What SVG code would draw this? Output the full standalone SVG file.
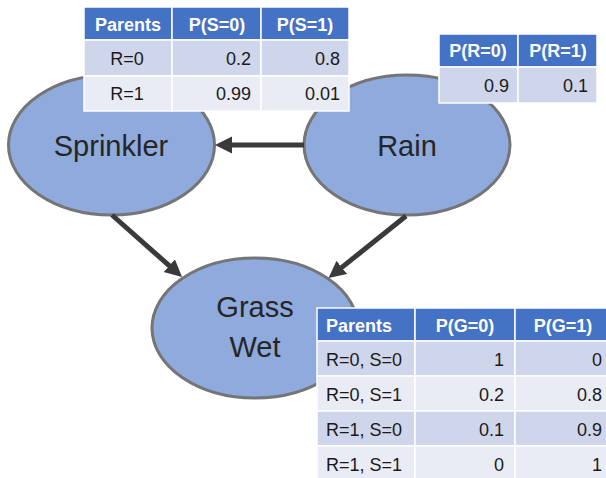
<svg xmlns="http://www.w3.org/2000/svg" width="606" height="478" viewBox="0 0 606 478">
<style>
.node{fill:#8FAADC;stroke:#757575;stroke-width:3}
.lbl{font-family:"Liberation Sans",Arial,sans-serif;font-size:29px;fill:#262626;text-anchor:middle}
.edge{stroke:#3A3A3A;stroke-width:5;fill:none;marker-end:url(#ah)}
.hd{fill:#4472C4;stroke:#fff;stroke-width:1.5}
.r1{fill:#CFD5EA;stroke:#fff;stroke-width:1.5}
.r2{fill:#E9EBF5;stroke:#fff;stroke-width:1.5}
.ht{font-family:"Liberation Sans",Arial,sans-serif;font-size:18px;font-weight:bold;fill:#fff;text-anchor:middle}
.dt{font-family:"Liberation Sans",Arial,sans-serif;font-size:18px;fill:#1a1a1a}
.c{text-anchor:middle}.r{text-anchor:end}.l{text-anchor:start}
</style>
<defs>
<marker id="ah" markerUnits="userSpaceOnUse" markerWidth="18" markerHeight="18" refX="4" refY="8.5" orient="auto">
<path d="M0,0 L17,8.5 L0,17 z" fill="#3A3A3A"/>
</marker>
</defs>
<rect width="606" height="478" fill="#fff"/>
<g id="sprinkler">
<ellipse class="node" cx="111.5" cy="145" rx="103" ry="70"/>
<text class="lbl" x="111" y="156">Sprinkler</text>
</g>
<g id="rain">
<ellipse class="node" cx="407" cy="145" rx="103" ry="70"/>
<text class="lbl" x="407" y="156">Rain</text>
</g>
<g id="grasswet">
<ellipse class="node" cx="255" cy="328" rx="103" ry="70"/>
<text class="lbl" x="255" y="317">Grass</text>
<text class="lbl" x="255" y="357">Wet</text>
</g>
<g id="connectors">
<line class="edge" x1="304" y1="145" x2="228" y2="145"/>
<line class="edge" x1="112" y1="215" x2="172.3" y2="268.4"/>
<line class="edge" x1="406" y1="216" x2="338.7" y2="269.9"/>
</g>
<g id="cpt-sprinkler">
<rect class="hd" x="84" y="7" width="88" height="33"/>
<rect class="hd" x="172" y="7" width="89" height="33"/>
<rect class="hd" x="261" y="7" width="88" height="33"/>
<rect class="r1" x="84" y="40" width="88" height="36"/>
<rect class="r1" x="172" y="40" width="89" height="36"/>
<rect class="r1" x="261" y="40" width="88" height="36"/>
<rect class="r2" x="84" y="76" width="88" height="35"/>
<rect class="r2" x="172" y="76" width="89" height="35"/>
<rect class="r2" x="261" y="76" width="88" height="35"/>
<text class="ht" x="128" y="31">Parents</text>
<text class="ht" x="217" y="31">P(S=0)</text>
<text class="ht" x="305" y="31">P(S=1)</text>
<text class="dt c" x="127" y="65">R=0</text>
<text class="dt r" x="251" y="65">0.2</text>
<text class="dt r" x="340" y="65">0.8</text>
<text class="dt c" x="127" y="100">R=1</text>
<text class="dt r" x="251" y="100">0.99</text>
<text class="dt r" x="340" y="100">0.01</text>
</g>
<g id="cpt-rain">
<rect class="hd" x="439" y="34" width="79" height="33"/>
<rect class="hd" x="518" y="34" width="79" height="33"/>
<rect class="r1" x="439" y="67" width="79" height="36"/>
<rect class="r1" x="518" y="67" width="79" height="36"/>
<text class="ht" x="478" y="57">P(R=0)</text>
<text class="ht" x="558" y="57">P(R=1)</text>
<text class="dt r" x="509" y="92">0.9</text>
<text class="dt r" x="588" y="92">0.1</text>
</g>
<g id="cpt-grasswet">
<rect class="hd" x="317" y="308" width="98" height="33"/>
<rect class="hd" x="415" y="308" width="100" height="33"/>
<rect class="hd" x="515" y="308" width="92" height="33"/>
<rect class="r1" x="317" y="341" width="98" height="35"/>
<rect class="r1" x="415" y="341" width="100" height="35"/>
<rect class="r1" x="515" y="341" width="92" height="35"/>
<rect class="r2" x="317" y="376" width="98" height="35"/>
<rect class="r2" x="415" y="376" width="100" height="35"/>
<rect class="r2" x="515" y="376" width="92" height="35"/>
<rect class="r1" x="317" y="411" width="98" height="35"/>
<rect class="r1" x="415" y="411" width="100" height="35"/>
<rect class="r1" x="515" y="411" width="92" height="35"/>
<rect class="r2" x="317" y="446" width="98" height="34"/>
<rect class="r2" x="415" y="446" width="100" height="34"/>
<rect class="r2" x="515" y="446" width="92" height="34"/>
<text class="ht l" x="326" y="332" style="text-anchor:start">Parents</text>
<text class="ht" x="465" y="332">P(G=0)</text>
<text class="ht" x="563" y="332">P(G=1)</text>
<text class="dt l" x="326" y="366">R=0, S=0</text>
<text class="dt r" x="504" y="366">1</text>
<text class="dt r" x="602" y="366">0</text>
<text class="dt l" x="326" y="401">R=0, S=1</text>
<text class="dt r" x="504" y="401">0.2</text>
<text class="dt r" x="602" y="401">0.8</text>
<text class="dt l" x="326" y="436">R=1, S=0</text>
<text class="dt r" x="504" y="436">0.1</text>
<text class="dt r" x="602" y="436">0.9</text>
<text class="dt l" x="326" y="471">R=1, S=1</text>
<text class="dt r" x="504" y="471">0</text>
<text class="dt r" x="602" y="471">1</text>
</g>
</svg>
